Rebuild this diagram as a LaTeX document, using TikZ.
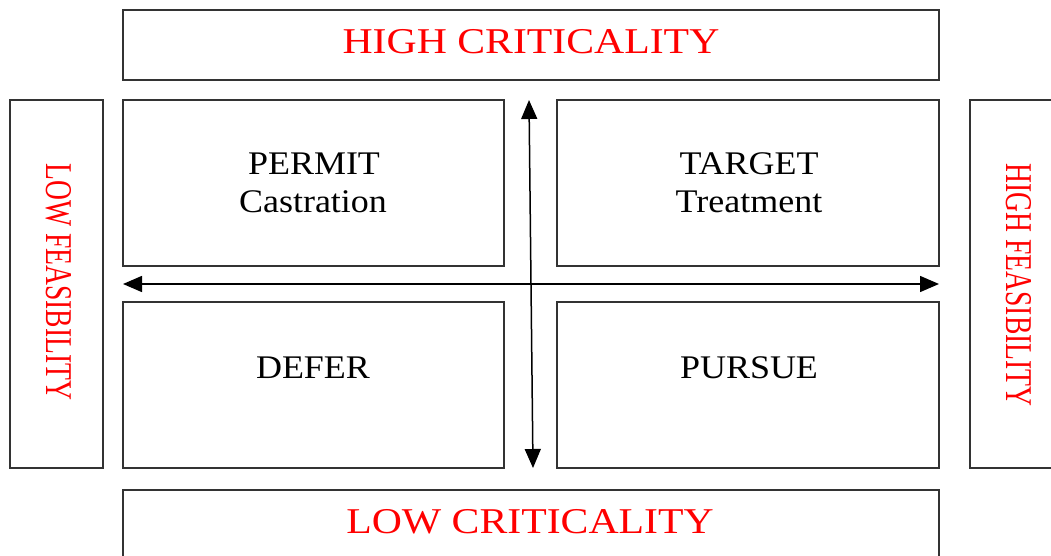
\documentclass[tikz,border=0pt]{standalone}
\usepackage{fontspec}
\setmainfont{Liberation Serif}
\usetikzlibrary{arrows.meta}
\begin{document}
\begin{tikzpicture}[x=1pt,y=-1pt,
  box/.style={draw=black!80,line width=1.4pt},
  redlbl/.style={text=red,inner sep=0pt,anchor=base},
  quadlbl/.style={text=black,inner sep=0pt,anchor=base},
  axis/.style={line width=1.5pt,{Triangle[length=19pt,width=16pt]}-{Triangle[length=19pt,width=16pt]}}]
\useasboundingbox (0,0) rectangle (1051,556);
\clip (0,0) rectangle (1051,556);
\fill[white] (0,0) rectangle (1051,556);
% boxes
\draw[box] (123,10) rectangle (939,80);
\draw[box] (123,490) rectangle (939,570);
\draw[box] (10,100) rectangle (103,468);
\draw[box] (970,100) rectangle (1070,468);
\draw[box] (123,100) rectangle (504,266);
\draw[box] (557,100) rectangle (939,266);
\draw[box] (123,302) rectangle (504,468);
\draw[box] (557,302) rectangle (939,468);
% axis end points
\coordinate (hl) at (123,284);
\coordinate (hr) at (939,284);
\coordinate (vt) at (529,100);
\coordinate (vb) at (533,468);
\draw[axis] (hl) -- (hr);
\draw[axis] (vt) -- (vb);
% criticality labels
\node[redlbl] (hc) at (531,54) {\fontsize{36.3}{40}\selectfont\scalebox{1.15}[1]{HIGH CRITICALITY}};
\node[redlbl] (lc) at (530,533) {\fontsize{36.3}{40}\selectfont\scalebox{1.15}[1]{LOW CRITICALITY}};
% feasibility labels
\node[text=red,inner sep=0pt] (lf) at (59,282) {\fontsize{27.6}{30}\selectfont\scalebox{1.37}[1]{\rotatebox{-90}{LOW FEASIBILITY}}};
\node[text=red,inner sep=0pt] (hf) at (1019,285) {\fontsize{27.6}{30}\selectfont\scalebox{1.37}[1]{\rotatebox{-90}{HIGH FEASIBILITY}}};
% quadrant labels
\node[quadlbl] (p1) at (314,175) {\fontsize{33}{36}\selectfont\scalebox{1.09}[1]{PERMIT}};
\node[quadlbl] (p2) at (313,212) {\fontsize{33}{36}\selectfont\scalebox{1.09}[1]{Castration}};
\node[quadlbl] (t1) at (749,175) {\fontsize{33}{36}\selectfont\scalebox{1.09}[1]{TARGET}};
\node[quadlbl] (t2) at (749,212) {\fontsize{33}{36}\selectfont\scalebox{1.09}[1]{Treatment}};
\node[quadlbl] (d1) at (313,378) {\fontsize{33}{36}\selectfont\scalebox{1.09}[1]{DEFER}};
\node[quadlbl] (u1) at (749,378) {\fontsize{33}{36}\selectfont\scalebox{1.09}[1]{PURSUE}};
\end{tikzpicture}
\end{document}
